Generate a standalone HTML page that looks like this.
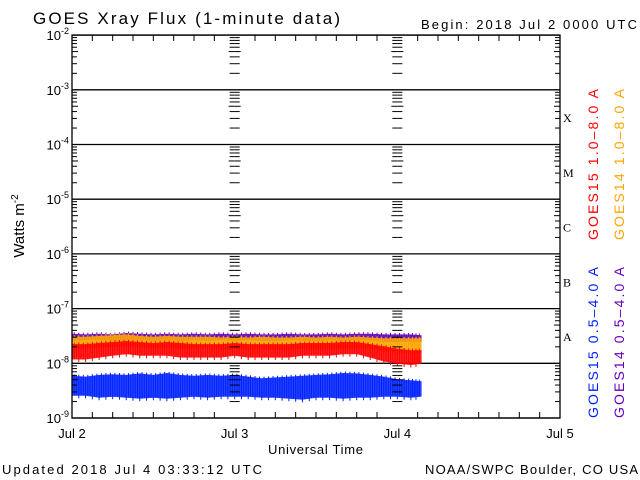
<!DOCTYPE html>
<html><head><meta charset="utf-8"><style>
body{margin:0;background:#fff;}
svg{display:block;font-family:"Liberation Sans",sans-serif;}
</style></head><body>
<svg id="chart" width="640" height="480" viewBox="0 0 640 480">
<rect width="640" height="480" fill="#fff"/>
<text x="33" y="24" font-size="17" textLength="307" lengthAdjust="spacing" fill="#000">GOES Xray Flux (1-minute data)</text>
<text x="421" y="29" font-size="13" textLength="216" lengthAdjust="spacing" fill="#000">Begin:  2018 Jul 2 0000 UTC</text>
<text transform="translate(24,226) rotate(-90)" font-size="15" text-anchor="middle" fill="#000">Watts m<tspan dy="-6" font-size="10">-2</tspan></text>
<text x="268" y="454" font-size="13" textLength="95" lengthAdjust="spacing" fill="#000">Universal Time</text>
<text x="2" y="474" font-size="13" textLength="260" lengthAdjust="spacing" fill="#000">Updated 2018 Jul  4 03:33:12 UTC</text>
<text x="425" y="474" font-size="13" textLength="213" lengthAdjust="spacing" fill="#000">NOAA/SWPC Boulder, CO USA</text>
<g id="grid"></g>
<g id="series"></g>
<g id="axes"></g>
<text transform="translate(598,240) rotate(-90)" font-size="14" textLength="151" lengthAdjust="spacing" fill="#ff0000">GOES15 1.0–8.0 A</text>
<text transform="translate(624,240) rotate(-90)" font-size="14" textLength="151" lengthAdjust="spacing" fill="#ffa500">GOES14 1.0–8.0 A</text>
<text transform="translate(598,418) rotate(-90)" font-size="14" textLength="151" lengthAdjust="spacing" fill="#0022ff">GOES15 0.5–4.0 A</text>
<text transform="translate(624,418) rotate(-90)" font-size="14" textLength="151" lengthAdjust="spacing" fill="#6600bb">GOES14 0.5–4.0 A</text>
</svg>
<script>
const dayLabels = ["Jul 2","Jul 3","Jul 4","Jul 5"];
const decadeExps = [-9,-8,-7,-6,-5,-4,-3,-2];
const classLabels = ["A","B","C","M","X"];
const classExps = [-8,-7,-6,-5,-4];
// hours since Jul 2 00:00, every 2 hours
const hours = [0,2,4,6,8,10,12,14,16,18,20,22,24,26,28,30,32,34,36,38,40,42,44,46,48,50,51.5];
const g14ShortHi = [3.4e-8,3.3e-8,3.4e-8,3.3e-8,3.5e-8,3.4e-8,3.3e-8,3.4e-8,3.3e-8,3.4e-8,3.3e-8,3.4e-8,3.3e-8,3.4e-8,3.3e-8,3.3e-8,3.4e-8,3.3e-8,3.3e-8,3.4e-8,3.3e-8,3.4e-8,3.4e-8,3.3e-8,3.3e-8,3.3e-8,3.2e-8];
const g14ShortLo = [2.6e-8,2.7e-8,2.7e-8,2.6e-8,2.7e-8,2.7e-8,2.6e-8,2.7e-8,2.6e-8,2.7e-8,2.6e-8,2.7e-8,2.6e-8,2.7e-8,2.6e-8,2.6e-8,2.7e-8,2.6e-8,2.6e-8,2.7e-8,2.6e-8,2.7e-8,2.7e-8,2.5e-8,2.5e-8,2.5e-8,2.5e-8];
const g14LongHi = [3.0e-8,3.0e-8,3.1e-8,3.2e-8,3.3e-8,3.1e-8,3.0e-8,3.1e-8,3.0e-8,3.0e-8,3.0e-8,2.9e-8,3.0e-8,2.9e-8,3.0e-8,2.9e-8,2.9e-8,3.0e-8,2.9e-8,3.0e-8,2.9e-8,3.0e-8,2.9e-8,2.8e-8,2.8e-8,2.8e-8,2.8e-8];
const g14LongLo = [1.9e-8,1.9e-8,2.0e-8,2.0e-8,2.1e-8,2.0e-8,1.9e-8,2.0e-8,1.9e-8,1.9e-8,1.9e-8,1.8e-8,1.9e-8,1.8e-8,1.9e-8,1.8e-8,1.8e-8,1.9e-8,1.8e-8,1.9e-8,1.9e-8,1.9e-8,1.9e-8,1.7e-8,1.6e-8,1.6e-8,1.6e-8];
const g15LongHi = [2.2e-8,2.2e-8,2.3e-8,2.4e-8,2.5e-8,2.4e-8,2.3e-8,2.4e-8,2.3e-8,2.2e-8,2.2e-8,2.2e-8,2.3e-8,2.2e-8,2.2e-8,2.2e-8,2.2e-8,2.3e-8,2.3e-8,2.3e-8,2.4e-8,2.4e-8,2.2e-8,2.0e-8,1.8e-8,1.7e-8,1.7e-8];
const g15LongLo = [1.2e-8,1.2e-8,1.3e-8,1.4e-8,1.5e-8,1.4e-8,1.4e-8,1.4e-8,1.3e-8,1.3e-8,1.3e-8,1.3e-8,1.4e-8,1.3e-8,1.3e-8,1.3e-8,1.3e-8,1.4e-8,1.4e-8,1.4e-8,1.5e-8,1.5e-8,1.3e-8,1.1e-8,1.0e-8,0.95e-8,1.0e-8];
const g15ShortHi = [5.8e-9,5.6e-9,6.0e-9,6.2e-9,6.0e-9,6.4e-9,6.0e-9,6.5e-9,6.0e-9,5.8e-9,6.0e-9,5.8e-9,6.0e-9,5.6e-9,5.2e-9,5.4e-9,5.6e-9,5.8e-9,6.0e-9,6.2e-9,6.5e-9,6.4e-9,6.0e-9,5.6e-9,5.0e-9,4.8e-9,4.6e-9];
const g15ShortLo = [2.6e-9,2.6e-9,2.4e-9,2.5e-9,2.4e-9,2.3e-9,2.4e-9,2.3e-9,2.4e-9,2.5e-9,2.4e-9,2.5e-9,2.5e-9,2.5e-9,2.4e-9,2.4e-9,2.3e-9,2.2e-9,2.4e-9,2.4e-9,2.3e-9,2.4e-9,2.4e-9,2.5e-9,2.5e-9,2.4e-9,2.5e-9];

const X0=72, X1=560, Y0=418, DEC=54.7;
const xs = h => X0 + (X1-X0)*h/72;
const ys = v => Y0 - (Math.log10(v)+9)*DEC;
const NS="http://www.w3.org/2000/svg";
function mk(tag, attrs, parent){const e=document.createElementNS(NS,tag);for(const k in attrs)e.setAttribute(k,attrs[k]);parent.appendChild(e);return e;}
const grid=document.getElementById('grid'), ser=document.getElementById('series'), axes=document.getElementById('axes');

decadeExps.forEach(e=>{
  const y=ys(Math.pow(10,e));
  const l=mk('line',{x1:X0,x2:X1,y1:y,y2:y,stroke:'#000','stroke-width':1.3},grid);
  
  
  const t=mk('text',{x:X0-3,y:y+5,'font-size':13,'text-anchor':'end',fill:'#000'},axes);
  
  
  t.textContent='10';
  const s=mk('tspan',{dy:-6,'font-size':9},t); s.textContent=String(e);
});
[0,24,48,72].forEach((h,i)=>{
  const x=xs(h);
  decadeExps.slice(0,-1).forEach(e=>{
    for(let m=2;m<=9;m++){
      const y=ys(m*Math.pow(10,e));
      const len = (m===5)?6:5;
      if(i<3) mk('line',{x1:x,x2:x+len,y1:y,y2:y,stroke:'#000'},axes);
      if(i>0) mk('line',{x1:x-len,x2:x,y1:y,y2:y,stroke:'#000'},axes);
    }
  });
  const t=mk('text',{x:x,y:438,'font-size':13,'text-anchor':'middle',fill:'#000'},axes);
  
  
  t.textContent=dayLabels[i];
});
for(let h=3;h<72;h+=3){ if(h%24===0) continue; const x=xs(h);
  mk('line',{x1:x,x2:x,y1:35,y2:41,stroke:'#000'},axes);
  mk('line',{x1:x,x2:x,y1:Y0-6,y2:Y0,stroke:'#000'},axes);}
const frame=mk('rect',{x:X0,y:35,width:X1-X0,height:Y0-35,fill:'none',stroke:'#000','stroke-width':1.3},axes);


classLabels.forEach((c,i)=>{
  const y=(ys(Math.pow(10,classExps[i]))+ys(Math.pow(10,classExps[i]+1)))/2;
  const t=mk('text',{x:X1+3,y:y+5,'font-size':12,'font-family':'Liberation Serif,serif',fill:'#000'},axes);
  
  
  t.textContent=c;
});
function band(hi,lo,color,name){
  let d='M'+hours.map((h,i)=>xs(h).toFixed(1)+','+ys(hi[i]).toFixed(1)).join('L');
  d+='L'+hours.slice().reverse().map((h,j)=>{const i=hours.length-1-j;return xs(h).toFixed(1)+','+ys(lo[i]).toFixed(1);}).join('L')+'Z';
  const p=mk('path',{d:d,fill:color,stroke:color,'stroke-width':1,opacity:0.85},ser);
  
  
  hours.forEach((h,i)=>{ if(i===hours.length-1) return;
    for(let k=0;k<6;k++){const f=k/6;const x=xs(h+(hours[i+1]-h)*f);
      const a=hi[i]*(1-f)+hi[i+1]*f, b=lo[i]*(1-f)+lo[i+1]*f;
      mk('line',{x1:x,x2:x,y1:ys(a)-(k%2?2:0),y2:ys(b)+(k%3===0?3:0),stroke:color,'stroke-width':1},ser);}
  });
}
band(g15ShortHi,g15ShortLo,'#0022ff','goes15-short-series');
band(g14ShortHi,g14ShortLo,'#6600bb','goes14-short-series');
band(g14LongHi,g14LongLo,'#ffa500','goes14-long-series');
band(g15LongHi,g15LongLo,'#ff0000','goes15-long-series');
</script>
</body></html>
